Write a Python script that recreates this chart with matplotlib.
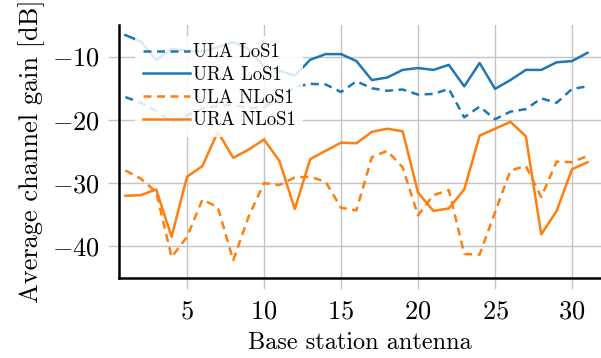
import matplotlib
matplotlib.use("Agg")
import matplotlib.pyplot as plt
import numpy as np

antennas = list(range(1, 32))
ula_los = [-16.4, -17.3, -18.6, -20.4, -19.3, -18.2, -17.8, -17.6, -18.2, -18.0, -16.6,
           -14.8, -14.3, -14.4, -15.6, -13.9, -15.0, -15.4, -15.2, -16.0, -15.9, -15.1,
           -19.6, -17.9, -19.9, -18.7, -18.3, -16.6, -17.3, -15.1, -14.7]
ura_los = [-6.6, -7.6, -10.5, -8.8, -9.1, -9.2, -8.5, -7.7, -8.8, -11.6, -12.2,
           -13.0, -10.5, -9.6, -9.6, -10.7, -13.7, -13.3, -12.1, -11.8, -12.1, -11.3,
           -14.7, -11.0, -15.1, -13.7, -12.1, -12.1, -10.9, -10.7, -9.4]
ula_nlos = [-28.0, -29.3, -31.4, -41.7, -38.5, -32.6, -33.8, -42.2, -35.3, -30.0, -30.3,
            -29.1, -29.0, -29.8, -33.9, -34.3, -25.9, -24.9, -27.5, -35.1, -31.9, -31.1,
            -41.2, -41.3, -34.6, -28.0, -27.3, -32.2, -26.6, -26.7, -25.7]
ura_nlos = [-32.0, -31.9, -31.0, -38.5, -29.0, -27.3, -21.9, -26.0, -24.7, -23.1, -26.5,
            -34.1, -26.2, -24.9, -23.6, -23.7, -21.9, -21.4, -21.8, -31.5, -34.4, -34.0,
            -31.0, -22.5, -21.4, -20.3, -22.6, -38.1, -34.4, -27.8, -26.7]
xticks = [5, 10, 15, 20, 25, 30]
yticks = [-10, -20, -30, -40]

plt.rcParams['font.family'] = 'serif'
plt.rcParams['font.serif'] = ['cmr10']
plt.rcParams['mathtext.fontset'] = 'cm'
plt.rcParams['axes.formatter.use_mathtext'] = True

fig = plt.figure(figsize=(6.01, 3.58), dpi=100)
ax = fig.add_axes([119/601, 80/358, 482/601, 253/358])

blue = '#1f77b4'
orange = '#ff7f0e'
lw = 1.8
dash = (0, (3.2, 2.2))
ax.plot(antennas, ula_los, color=blue, lw=lw, linestyle=dash, label='ULA LoS1')
ax.plot(antennas, ura_los, color=blue, lw=lw, label='URA LoS1')
ax.plot(antennas, ula_nlos, color=orange, lw=lw, linestyle=dash, label='ULA NLoS1')
ax.plot(antennas, ura_nlos, color=orange, lw=lw, label='URA NLoS1')

ax.set_xlim(0.585, 31.88)
ax.set_ylim(-45, -5)
ax.set_xticks(xticks)
ax.set_yticks(yticks)
ax.grid(True, color='#c4c4c4', lw=1.0)
ax.set_axisbelow(True)
for s in ['top', 'right']:
    ax.spines[s].set_visible(False)
for s in ['left', 'bottom']:
    ax.spines[s].set_linewidth(1.8)
    ax.spines[s].set_color('black')
ax.tick_params(axis='both', which='both', direction='out', length=8, width=1.0,
               color='#c4c4c4', labelsize=19)
ax.tick_params(axis='x', pad=8)
ax.tick_params(axis='y', pad=6)

ax.set_xlabel('Base station antenna', fontsize=17.5, labelpad=6)
ax.set_ylabel('Average channel gain [dB]', fontsize=19, labelpad=5)

leg = ax.legend(loc='upper left', bbox_to_anchor=(0.034, 0.957), borderaxespad=0,
                fontsize=13.5, frameon=True, handlelength=2.5, handletextpad=0.15,
                labelspacing=0.25, borderpad=0.4)
leg.get_frame().set_facecolor('white')
leg.get_frame().set_alpha(0.85)
leg.get_frame().set_linewidth(0)

fig.savefig('out.png', dpi=100)
